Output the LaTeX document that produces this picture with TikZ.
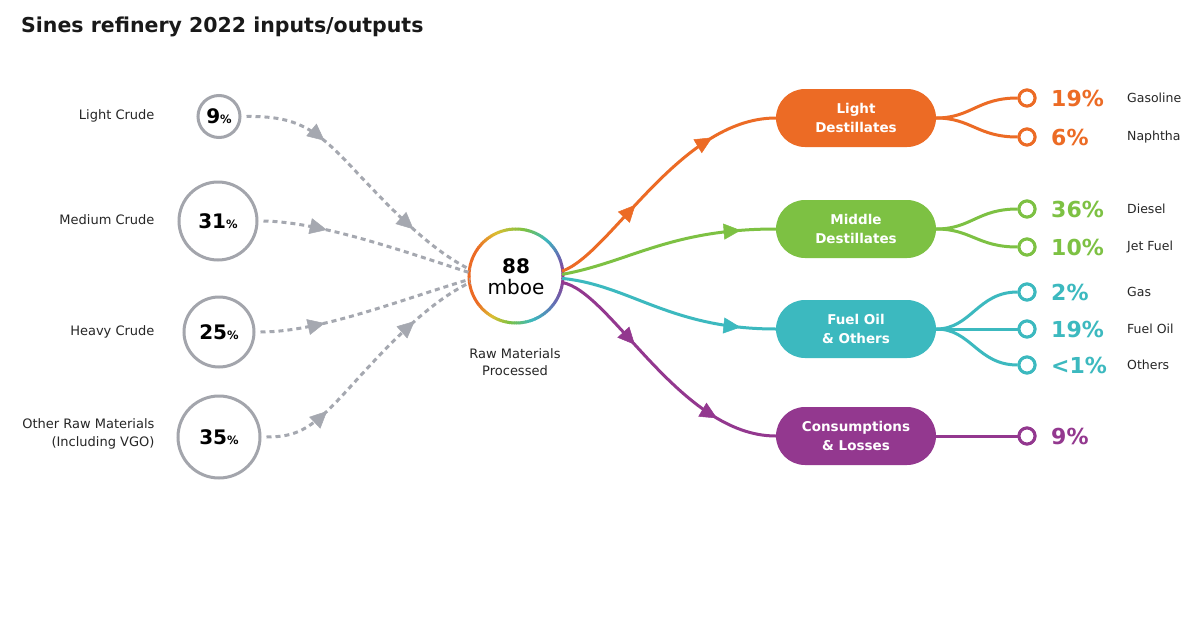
\documentclass[tikz,border=0pt]{standalone}
\usepackage{fontspec}
\setmainfont{DejaVu Sans}
\usetikzlibrary{arrows.meta,decorations.markings,shapes.misc}
\definecolor{cOr}{RGB}{236,107,37}
\definecolor{cGr}{RGB}{125,193,67}
\definecolor{cTe}{RGB}{60,185,191}
\definecolor{cPu}{RGB}{147,56,143}
\definecolor{cGray}{RGB}{163,165,172}
\definecolor{cDash}{RGB}{165,168,176}
\definecolor{rP}{RGB}{147,56,143}
\definecolor{rB}{RGB}{100,110,180}
\definecolor{rT}{RGB}{60,185,191}
\definecolor{rG}{RGB}{125,193,67}
\definecolor{rY}{RGB}{220,190,50}
\definecolor{rO}{RGB}{236,107,37}
\newcommand{\inpct}[1]{{\fontsize{20}{20}\selectfont\bfseries #1}{\fontsize{11.5}{11.5}\selectfont\bfseries\%}}
\begin{document}
\begin{tikzpicture}[x=1pt,y=1pt,
  inlabel/.style={anchor=east,font=\fontsize{13}{18}\selectfont,align=right,text=black!85},
  incirc/.style={circle,draw=cGray,line width=3pt,fill=white,inner sep=0pt,minimum size=#1},
  inflow/.style={draw=cDash,line width=3pt,dash pattern=on 5pt off 4pt},
  tipone/.style={postaction={decorate,decoration={markings,
      mark=at position #1 with {\arrow{Triangle[length=17pt,width=16pt,line width=0.5pt]}}}}},
  tiptwo/.style 2 args={postaction={decorate,decoration={markings,
      mark=at position #1 with {\arrow{Triangle[length=17pt,width=16pt,line width=0.5pt]}},
      mark=at position #2 with {\arrow{Triangle[length=17pt,width=16pt,line width=0.5pt]}}}}},
  flow/.style={draw=#1,fill=none,line width=3pt,color=#1},
  pill/.style={rounded rectangle,minimum width=160pt,minimum height=58pt,fill=#1,text=white,
      font=\fontsize{13.5}{19}\selectfont\bfseries,align=center,inner sep=0pt},
  outc/.style={circle,draw=#1,line width=3pt,fill=white,inner sep=0pt,minimum size=16pt},
  pctout/.style={anchor=west,text=#1,font=\fontsize{22}{22}\selectfont\bfseries,inner sep=0pt},
  outlabel/.style={anchor=west,font=\fontsize{12.5}{14}\selectfont,text=black!85,inner sep=0pt}
]
\useasboundingbox[fill=white] (0,0) rectangle (1200,-640);

% title
\node[anchor=west,font=\fontsize{20.5}{24}\selectfont\bfseries,text=black!90,inner sep=0pt] (title) at (21,-27) {Sines refinery 2022 inputs/outputs};

% input circles and labels
\node[incirc=42pt] (c1) at (219,-116.5) {\inpct{9}};
\node[incirc=78pt] (c2) at (218,-221) {\inpct{31}};
\node[incirc=70pt] (c3) at (219,-332) {\inpct{25}};
\node[incirc=82pt] (c4) at (219,-437) {\inpct{35}};
\node[inlabel] (l1) at (158,-116) {Light Crude};
\node[inlabel] (l2) at (158,-220) {Medium Crude};
\node[inlabel] (l3) at (158,-332) {Heavy Crude};
\node[inlabel] (l4) at (158,-434) {Other Raw Materials\\(Including VGO)};

% center
\node[circle,minimum size=92pt,inner sep=0pt,fill=white] (cen) at (516,-276) {};
\foreach \a/\b/\ca/\cb in {0/25/rP/rB,25/50/rB/rT,50/80/rT/rG,80/115/rG/rY,115/145/rY/rO,145/215/rO/rO,215/240/rO/rY,240/262/rY/rG,262/290/rG/rT,290/325/rT/rB,325/360/rB/rP}{
  \foreach \i in {0,...,9}{
    \pgfmathsetmacro\s{\a+(\b-\a)*\i/10}
    \pgfmathsetmacro\e{\a+(\b-\a)*(\i+1)/10+0.7}
    \pgfmathtruncatemacro\p{100-(\i*10+5)}
    \draw[line width=3pt,color=\ca!\p!\cb] (cen.center) ++(\s:47pt) arc[start angle=\s,end angle=\e,radius=47pt];
  }
}
\node[font=\fontsize{20}{20}\selectfont\bfseries,inner sep=0pt] (n88) at (516,-266.5) {88};
\node[font=\fontsize{20}{20}\selectfont,inner sep=0pt] (mboe) at (516,-287.5) {mboe};
\node[font=\fontsize{13}{17}\selectfont,align=center,text=black!85] (rmp) at (515,-362) {Raw Materials\\Processed};

% input flows
\draw[inflow,tiptwo={0.3}{0.75}] ([xshift=5pt]c1.east) .. controls (290,-116) and (310,-125) .. (340,-155)
   .. controls (370,-185) and (420,-245) .. (cen.172);
\draw[inflow,tipone={0.3}] ([xshift=5pt]c2.east) .. controls (320,-222) and (400,-250) .. (cen.176);
\draw[inflow,tipone={0.3}] ([xshift=5pt]c3.east) .. controls (320,-332) and (400,-300) .. (cen.184);
\draw[inflow,tiptwo={0.26}{0.74}] ([xshift=5pt]c4.east) .. controls (295,-437) and (310,-430) .. (340,-398)
   .. controls (370,-366) and (420,-306) .. (cen.188);

% pills
\node[pill=cOr] (p1) at (856,-118) {Light\\Destillates};
\node[pill=cGr] (p2) at (856,-229) {Middle\\Destillates};
\node[pill=cTe] (p3) at (856,-329) {Fuel Oil\\\& Others};
\node[pill=cPu] (p4) at (856,-436) {Consumptions\\\& Losses};

% output flows
\draw[flow=cOr,tiptwo={0.37}{0.75}] (cen.6) .. controls (610,-255) and (680,-118) .. (p1.west);
\draw[flow=cGr,tipone={0.84}] (cen.2) .. controls (630,-262) and (670,-229) .. (p2.west);
\draw[flow=cTe,tipone={0.84}] (cen.-3) .. controls (630,-285) and (670,-329) .. (p3.west);
\draw[flow=cPu,tiptwo={0.36}{0.77}] (cen.-8) .. controls (610,-290) and (680,-436) .. (p4.west);

% output circles
\node[outc=cOr] (o1) at (1027,-98) {};
\node[outc=cOr] (o2) at (1027,-137) {};
\node[outc=cGr] (o3) at (1027,-209) {};
\node[outc=cGr] (o4) at (1027,-247) {};
\node[outc=cTe] (o5) at (1027,-292) {};
\node[outc=cTe] (o6) at (1027,-329) {};
\node[outc=cTe] (o7) at (1027,-365) {};
\node[outc=cPu] (o8) at (1027,-436) {};

\draw[flow=cOr] (p1.east) .. controls +(35,0) and +(-40,0) .. (o1.west);
\draw[flow=cOr] (p1.east) .. controls +(35,0) and +(-40,0) .. (o2.west);
\draw[flow=cGr] (p2.east) .. controls +(35,0) and +(-40,0) .. (o3.west);
\draw[flow=cGr] (p2.east) .. controls +(35,0) and +(-40,0) .. (o4.west);
\draw[flow=cTe] (p3.east) .. controls +(35,0) and +(-40,0) .. (o5.west);
\draw[flow=cTe] (p3.east) -- (o6.west);
\draw[flow=cTe] (p3.east) .. controls +(35,0) and +(-40,0) .. (o7.west);
\draw[flow=cPu] (p4.east) -- (o8.west);

% redraw circles on top
\foreach \n/\c/\y in {o1/cOr/-98,o2/cOr/-137,o3/cGr/-209,o4/cGr/-247,o5/cTe/-292,o6/cTe/-329,o7/cTe/-365,o8/cPu/-436}{
  \node[outc=\c] at (1027,\y) {};
}

% percentages
\node[pctout=cOr] (t1) at (1051,-98) {19\%};
\node[pctout=cOr] (t2) at (1051,-137) {6\%};
\node[pctout=cGr] (t3) at (1051,-209) {36\%};
\node[pctout=cGr] (t4) at (1051,-247) {10\%};
\node[pctout=cTe] (t5) at (1051,-292) {2\%};
\node[pctout=cTe] (t6) at (1051,-329) {19\%};
\node[pctout=cTe] (t7) at (1051,-365) {<1\%};
\node[pctout=cPu] (t8) at (1051,-436) {9\%};

% product labels
\node[outlabel] (g1) at (1127,-98) {Gasoline};
\node[outlabel] (g2) at (1127,-137) {Naphtha};
\node[outlabel] (g3) at (1127,-209) {Diesel};
\node[outlabel] (g4) at (1127,-247) {Jet Fuel};
\node[outlabel] (g5) at (1127,-292) {Gas};
\node[outlabel] (g6) at (1127,-329) {Fuel Oil};
\node[outlabel] (g7) at (1127,-365) {Others};
\end{tikzpicture}
\end{document}
